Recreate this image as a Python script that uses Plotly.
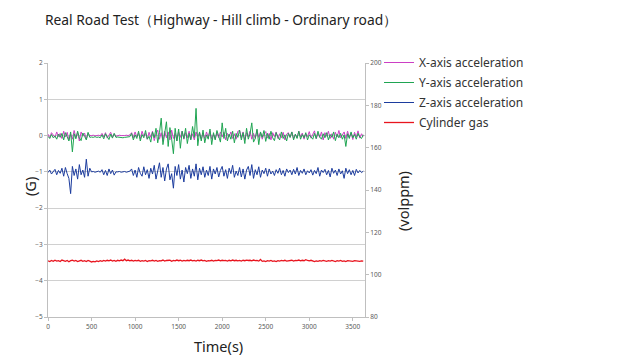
import plotly.graph_objects as go

# time samples every 20 s
time_s = list(range(0, 3640, 20))

x_acc = [0.04, -0.06, 0.08, 0.01, -0.05, 0.10, -0.03, 0.06, -0.08, 0.12,
         -0.04, 0.09, -0.12, 0.05, -0.10, 0.14, -0.06, 0.08, -0.15, 0.10,
         -0.02, 0.07, -0.10, 0.06, 0.00, 0.00, 0.01, -0.01, 0.00, 0.01,
         -0.01, 0.06, -0.04, 0.08, -0.07, 0.03, 0.09, -0.05, 0.05, -0.02,
         0.00, 0.01, 0.00, -0.01, 0.00, 0.01, 0.00, 0.02, 0.08, -0.06,
         0.10, -0.04, 0.07, -0.09, 0.12, -0.02, 0.06, -0.10, 0.09, -0.05,
         0.12, -0.14, 0.05, 0.15, -0.10, 0.08, -0.16, 0.12, -0.06, 0.10,
         -0.12, 0.15, -0.08, 0.06, -0.14, 0.10, -0.05, 0.12, -0.10, 0.08,
         -0.06, 0.12, -0.10, 0.05, -0.12, 0.10, -0.04, 0.08, -0.10, 0.06,
         -0.08, 0.10, -0.05, 0.12, -0.09, 0.04, -0.10, 0.08, -0.06, 0.10,
         -0.04, 0.09, -0.12, 0.06, -0.03, 0.10, -0.08, 0.05, -0.10, 0.12,
         0.14, -0.06, 0.10, -0.12, 0.08, -0.04, 0.12, -0.10, 0.06, -0.08,
         0.15, -0.05, 0.09, -0.10, 0.04, 0.11, -0.07, 0.06, -0.12, 0.08,
         -0.03, 0.10, -0.08, 0.05, -0.06, 0.09, -0.12, 0.04, 0.08, -0.05,
         0.10, -0.08, 0.03, -0.06, 0.12, -0.04, 0.07, -0.10, 0.05, -0.03,
         0.11, -0.07, 0.04, 0.13, -0.09, 0.06, -0.05, 0.10, -0.12, 0.08,
         -0.02, 0.12, -0.08, 0.05, -0.10, 0.09, -0.04, 0.14, -0.06, 0.03,
         0.10, -0.08, 0.12, -0.05, 0.07, -0.11, 0.09, -0.04, 0.13, -0.07,
         0.05, -0.02]

y_acc = [-0.02, -0.08, 0.03, -0.06, -0.01, -0.10, 0.04, -0.05, 0.06, -0.12,
         0.08, -0.03, -0.15, 0.10, -0.45, 0.05, -0.09, 0.12, -0.06, -0.14,
         0.07, -0.02, -0.12, 0.09, -0.05, -0.04, -0.05, -0.03, -0.05, -0.04,
         -0.06, 0.02, -0.09, 0.05, -0.02, -0.11, 0.04, -0.07, 0.06, -0.05,
         -0.04, -0.05, -0.04, -0.06, -0.05, -0.04, -0.05, -0.03, 0.06, -0.12,
         0.02, -0.08, 0.12, -0.15, 0.03, -0.06, 0.14, -0.10, -0.02, -0.18,
         0.10, -0.06, 0.20, -0.20, 0.08, 0.48, -0.25, 0.15, 0.38, -0.30,
         0.22, -0.10, -0.50, 0.20, -0.15, 0.18, -0.35, 0.12, -0.08, 0.20,
         -0.22, 0.06, -0.12, 0.25, -0.05, 0.75, -0.28, 0.10, -0.15, 0.15,
         -0.20, 0.02, -0.10, 0.18, -0.25, 0.08, -0.12, 0.14, -0.06, -0.18,
         0.35, -0.08, 0.20, -0.15, 0.04, -0.10, 0.12, -0.20, 0.06, -0.05,
         0.15, -0.12, 0.08, -0.22, 0.20, -0.10, 0.05, 0.35, -0.18, -0.08,
         0.18, -0.25, 0.10, -0.05, 0.14, -0.16, 0.06, -0.10, 0.12, -0.06,
         -0.14, 0.08, -0.04, -0.12, 0.10, -0.08, 0.02, -0.15, 0.06, -0.05,
         0.10, -0.12, 0.04, -0.08, 0.12, -0.10, 0.03, -0.06, 0.08, -0.12,
         0.02, -0.05, -0.10, 0.06, -0.08, 0.12, -0.04, -0.10, 0.05, -0.06,
         0.08, -0.12, 0.03, -0.05, 0.10, -0.14, 0.04, -0.06, 0.06, -0.10,
         0.02, -0.30, 0.05, -0.08, 0.10, -0.06, 0.03, -0.10, 0.06, -0.04,
         -0.08, 0.02]

z_acc = [-1.02, -0.95, -1.06, -0.98, -0.93, -1.08, -0.96, -1.04, -0.90, -1.12,
         -0.88, -1.05, -1.18, -1.60, -0.85, -1.10, -0.92, -1.20, -0.80, -1.08,
         -0.95, -1.15, -0.65, -1.12, -0.90, -1.00, -0.99, -1.01, -1.00, -0.98,
         -1.01, -0.94, -1.08, -0.96, -1.10, -0.92, -1.05, -0.95, -1.09, -1.00,
         -1.00, -0.99, -1.01, -1.00, -0.99, -1.01, -1.00, -0.98, -0.92, -1.10,
         -0.95, -1.15, -0.88, -1.04, -1.12, -0.86, -1.08, -0.94, -1.18, -0.90,
         -1.06, -0.82, -1.20, -0.95, -0.75, -1.15, -0.88, -1.25, -0.92, -0.78,
         -1.22, -1.05, -1.45, -0.85, -1.10, -0.80, -1.20, -0.95, -1.28, -0.88,
         -1.05, -0.82, -1.18, -0.92, -1.12, -0.78, -1.22, -0.90, -1.08, -0.86,
         -1.15, -0.95, -1.10, -0.85, -1.20, -0.92, -1.06, -0.88, -1.14, -0.96,
         -0.85, -1.12, -0.94, -1.18, -0.90, -1.05, -0.82, -1.15, -0.98, -1.10,
         -0.88, -1.14, -0.92, -1.20, -0.95, -0.85, -1.10, -0.80, -1.18, -0.94,
         -1.08, -0.86, -1.15, -0.95, -1.05, -0.90, -1.12, -0.92, -1.06, -0.98,
         -1.10, -0.94, -1.04, -0.90, -1.08, -0.96, -1.12, -0.92, -1.02, -0.95,
         -1.08, -0.93, -1.06, -0.88, -1.10, -0.96, -1.04, -0.92, -1.08, -0.97,
         -1.03, -0.94, -1.09, -0.96, -1.05, -0.88, -1.12, -0.95, -1.02, -0.93,
         -1.08, -0.96, -1.14, -0.90, -1.04, -0.95, -1.10, -0.92, -1.06, -0.97,
         -1.18, -0.90, -1.05, -0.94, -1.08, -0.96, -1.10, -0.93, -1.03, -0.96,
         -1.02, -0.98]

cylinder_gas = [106.5, 106.2, 106.7, 106.3, 106.8, 106.4, 106.6, 106.2, 106.9, 106.5, 106.3, 106.7, 106.1, 106.6, 106.8, 106.4, 106.7, 106.2, 106.5, 106.8,
                106.3, 106.6, 106.2, 106.7, 106.4, 106.0, 106.3, 106.1, 106.5, 106.2, 106.6, 106.3, 106.7, 106.4, 106.8, 106.5, 106.9, 106.4, 106.7, 106.3,
                106.8, 106.5, 106.9, 106.6, 107.3, 106.6, 106.9, 106.5, 106.8, 106.4, 106.7, 106.5, 106.8, 106.3, 106.6, 106.4, 106.7, 106.2, 106.6, 106.5,
                106.8, 106.4, 106.7, 106.3, 106.6, 106.5, 106.9, 106.4, 106.7, 106.6, 106.8, 106.3, 106.7, 106.5, 106.9, 106.6, 106.8, 106.4, 106.7, 106.5,
                106.8, 106.6, 106.9, 106.5, 106.7, 106.4, 106.8, 106.6, 106.9, 106.5, 106.7, 106.3, 106.6, 106.5, 106.8, 106.4, 106.7, 106.6, 106.9, 106.5,
                106.8, 106.6, 106.7, 106.4, 106.8, 106.5, 106.9, 106.6, 106.8, 106.5, 106.7, 106.4, 106.8, 106.6, 106.9, 106.7, 106.8, 106.5, 106.9, 106.6,
                106.7, 106.4, 107.2, 106.3, 106.5, 106.2, 106.6, 106.4, 106.7, 106.3, 106.5, 106.2, 106.6, 106.4, 106.7, 106.5, 106.8, 106.4, 106.6, 106.5,
                106.8, 106.4, 106.7, 106.6, 106.9, 106.5, 106.8, 106.6, 107.1, 106.7, 106.5, 106.8, 106.4, 106.2, 106.5, 106.3, 106.6, 106.4, 106.7, 106.5,
                106.3, 106.6, 106.4, 106.7, 106.5, 106.2, 106.6, 106.4, 106.7, 106.3, 106.5, 106.2, 106.6, 106.4, 106.5, 106.3, 106.6, 106.4, 106.5, 106.3,
                106.5, 106.4]

series_names = ["X-axis acceleration", "Y-axis acceleration", "Z-axis acceleration", "Cylinder gas"]
series_colors = ["#cc3fc4", "#1fa552", "#1c3c9e", "#e8141e"]

left_ticks = [2, 1, 0, -1, -2, -3, -4, -5]
right_ticks = [200, 180, 160, 140, 120, 100, 80]
x_ticks = [0, 500, 1000, 1500, 2000, 2500, 3000, 3500]

fig = go.Figure()
for name, vals, col in zip(series_names[:3], [x_acc, y_acc, z_acc], series_colors[:3]):
    fig.add_trace(go.Scatter(x=time_s, y=vals, mode="lines", name=name, legendgroup=name,
                             line=dict(color=col, width=1)))
fig.add_trace(go.Scatter(x=time_s, y=cylinder_gas, mode="lines", name=series_names[3],
                         legendgroup=series_names[3],
                         line=dict(color=series_colors[3], width=1.3), yaxis="y2"))

tickfont = dict(family="Noto Sans", size=6.5, color="#595959")
axis_common = dict(showline=True, linecolor="#bfbfbf", linewidth=1,
                   ticks="outside", ticklen=3, tickcolor="#bfbfbf",
                   zeroline=False, automargin=False, tickfont=tickfont)
title_font = dict(family="Noto Sans", size=14.5, color="#222222")

# plot area: x 48..365 px, y 63..317 px
fig.update_layout(
    width=625, height=363,
    margin=dict(l=48, r=260, t=63, b=46, autoexpand=False),
    paper_bgcolor="white", plot_bgcolor="white",
    font=dict(family="Noto Sans", color="#333333"),
    title=dict(text="Real Road Test（Highway - Hill climb - Ordinary road）",
               x=45 / 625, xanchor="left", y=1 - 20 / 363, yanchor="middle",
               font=dict(family="Noto Sans", size=13.8, color="#222222")),
    xaxis=dict(range=[0, 3640], tickvals=x_ticks, showgrid=False, **axis_common),
    yaxis=dict(range=[-5, 2], tickvals=left_ticks,
               showgrid=True, gridcolor="#d0d0d0", gridwidth=1, **axis_common),
    yaxis2=dict(range=[80, 200], tickvals=right_ticks,
                overlaying="y", side="right", showgrid=False, **axis_common),
    legend=dict(x=(379 - 48) / 317, xanchor="left", y=1 + 15 / 254, yanchor="top",
                font=dict(size=12, color="#333333"), itemwidth=30,
                bgcolor="rgba(0,0,0,0)", tracegroupgap=1),
    annotations=[
        dict(text="(G)", xref="paper", yref="paper", x=(30 - 48) / 317, y=(317 - 187) / 254,
             textangle=-90, showarrow=False, font=title_font, xanchor="center", yanchor="middle"),
        dict(text="(volppm)", xref="paper", yref="paper", x=(403 - 48) / 317, y=(317 - 201) / 254,
             textangle=-90, showarrow=False, font=title_font, xanchor="center", yanchor="middle"),
        dict(text="Time(s)", xref="paper", yref="paper", x=(218 - 48) / 317, y=(317 - 346) / 254,
             showarrow=False, font=title_font, xanchor="center", yanchor="middle"),
    ],
    showlegend=True,
)

fig.write_html("out.html", config={"displayModeBar": False},
               post_script="document.body.style.margin='0';")
